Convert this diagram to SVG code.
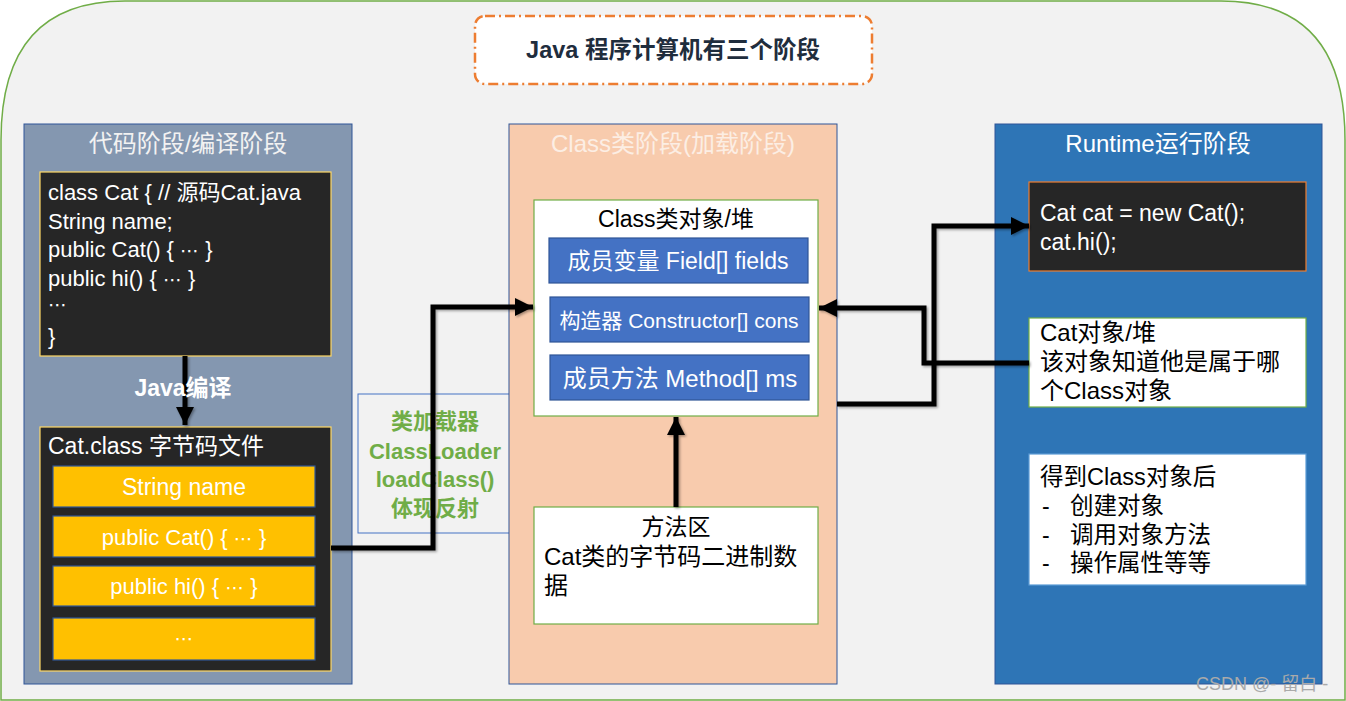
<svg xmlns="http://www.w3.org/2000/svg" width="1346" height="701" viewBox="0 0 1346 701">
<defs>
<style>
text{font-family:"Liberation Sans","Noto Sans CJK SC",sans-serif;font-size:23px}
.c{text-anchor:middle}
.w{fill:#FFFFFF}
.k{fill:#000000}
.code{font-size:22px}
.el{font-family:"DejaVu Sans",sans-serif;font-size:19px}
.panel{stroke:#2F5597;stroke-width:1}
.dark{fill:#262626;stroke:#FFD966;stroke-width:1.2}
.yel{fill:#FFC000;stroke:#2F5597;stroke-width:1.2}
.blu{fill:#4472C4;stroke:#2F5597;stroke-width:1.2}
.gbox{fill:#FFFFFF;stroke:#70AD47;stroke-width:1.2}
.conn{fill:none;stroke:#000;stroke-width:5;filter:url(#sh)}
.ldr{fill:#70AD47;font-weight:bold;font-size:22px}
</style>
<marker id="ah" markerUnits="userSpaceOnUse" markerWidth="20" markerHeight="20" viewBox="0 0 20 20" refX="18" refY="10" orient="auto">
<path d="M0,1 L18,10 L0,19 Z" fill="#000"/>
</marker>
<filter id="sh" filterUnits="userSpaceOnUse" x="0" y="0" width="1346" height="701">
<feDropShadow dx="1.5" dy="1.5" stdDeviation="0.8" flood-color="#000" flood-opacity="0.35"/>
</filter>
</defs>

<path id="bg" d="M1,700 V140 C1,45 45,1 125,1 H1221 C1301,1 1345,45 1345,140 V700 Z" fill="#F2F2F2" stroke="#70AD47" stroke-width="1.5"/>

<g id="title">
<rect x="475" y="16" width="397" height="68" rx="10" fill="#FFFFFF" stroke="#ED7D31" stroke-width="2.5" stroke-dasharray="10,4,2,4"/>
<text x="673" y="58" class="c" style="font-weight:bold;font-size:23.5px" fill="#1F2D3D">Java 程序计算机有三个阶段</text>
</g>

<g id="panel-code">
<rect x="24" y="124" width="328" height="560" fill="#8497B0" class="panel"/>
<text x="188" y="152" class="c" style="font-size:24px" fill="#F2F2F2">代码阶段/编译阶段</text>
</g>

<g id="source">
<rect x="40" y="172" width="291" height="184" class="dark"/>
<text class="w code" x="48" y="200">class Cat { // 源码Cat.java</text>
<text class="w code" x="48" y="229">String name;</text>
<text class="w code" x="48" y="257">public Cat() { <tspan class="el">⋯</tspan> }</text>
<text class="w code" x="48" y="286">public hi() { <tspan class="el">⋯</tspan> }</text>
<text class="w el" x="48" y="311">⋯</text>
<text class="w code" x="48" y="344">}</text>
</g>

<g id="bytecode">
<rect x="40" y="427" width="291" height="244" class="dark"/>
<text class="w" x="48" y="454">Cat.class 字节码文件</text>
<rect x="53" y="466" width="262" height="41" class="yel"/>
<text class="w c" x="184" y="495">String name</text>
<rect x="53" y="516" width="262" height="41" class="yel"/>
<text class="w c code" x="184" y="545">public Cat() { <tspan class="el">⋯</tspan> }</text>
<rect x="53" y="566" width="262" height="40" class="yel"/>
<text class="w c code" x="184" y="594">public hi() { <tspan class="el">⋯</tspan> }</text>
<rect x="53" y="618" width="262" height="42" class="yel"/>
<text class="w c el" x="184" y="645">⋯</text>
</g>

<g id="loader">
<rect x="358" y="394" width="154" height="139" fill="none" stroke="#4472C4" stroke-width="1"/>
<text class="c ldr" x="435" y="429">类加载器</text>
<text class="c ldr" x="435" y="459">ClassLoader</text>
<text class="c ldr" x="435" y="487">loadClass()</text>
<text class="c ldr" x="435" y="516">体现反射</text>
</g>

<g id="panel-class">
<rect x="509" y="124" width="328" height="560" fill="#F8CBAD" class="panel"/>
<text x="673" y="152" class="c" style="font-size:24px" fill="#FCEEE4">Class类阶段(加载阶段)</text>
</g>

<g id="class-object">
<rect x="534" y="200" width="284" height="216" class="gbox"/>
<text class="k c" x="676" y="227">Class类对象/堆</text>
<rect x="549" y="238" width="259" height="45" class="blu"/>
<text class="w c" x="678" y="269">成员变量 Field[] fields</text>
<rect x="550" y="297" width="259" height="45" class="blu"/>
<text class="w c" x="679" y="328" style="font-size:21px">构造器 Constructor[] cons</text>
<rect x="550" y="355" width="259" height="45" class="blu"/>
<text class="w c" x="680" y="387" style="font-size:24px">成员方法 Method[] ms</text>
</g>

<g id="method-area">
<rect x="534" y="507" width="284" height="117" class="gbox"/>
<text class="k c" x="676" y="535">方法区</text>
<text class="k" x="544" y="565" style="font-size:24px">Cat类的字节码二进制数</text>
<text class="k" x="544" y="594" style="font-size:24px">据</text>
</g>

<g id="panel-runtime">
<rect x="995" y="124" width="327" height="560" fill="#2E75B6" class="panel"/>
<text x="1158" y="152" class="c" style="font-size:24px" fill="#FFFFFF">Runtime运行阶段</text>
</g>

<g id="runtime-code">
<rect x="1029" y="182" width="277" height="89" fill="#262626" stroke="#ED7D31" stroke-width="1.2"/>
<text class="w" x="1040" y="221">Cat cat = new Cat();</text>
<text class="w" x="1040" y="250">cat.hi();</text>
</g>

<g id="cat-object">
<rect x="1029" y="318" width="277" height="89" class="gbox"/>
<text class="k" x="1040" y="341" style="font-size:24px">Cat对象/堆</text>
<text class="k" x="1040" y="370" style="font-size:24px">该对象知道他是属于哪</text>
<text class="k" x="1040" y="399" style="font-size:24px">个Class对象</text>
</g>

<g id="after-class">
<rect x="1029" y="454" width="277" height="131" fill="#FFFFFF" stroke="#5B9BD5" stroke-width="1.2"/>
<text class="k" x="1040" y="485" style="font-size:23.5px">得到Class对象后</text>
<text class="k" x="1042" y="514">-</text><text class="k" x="1070" y="514" style="font-size:23.5px">创建对象</text>
<text class="k" x="1042" y="543">-</text><text class="k" x="1070" y="543" style="font-size:23.5px">调用对象方法</text>
<text class="k" x="1042" y="571">-</text><text class="k" x="1070" y="571" style="font-size:23.5px">操作属性等等</text>
</g>

<g id="connectors">
<path class="conn" d="M185,356 V425" marker-end="url(#ah)"/>
<path class="conn" d="M331,548 H433 V307 H533" marker-end="url(#ah)"/>
<path class="conn" d="M676,507 V417" marker-end="url(#ah)"/>
<path class="conn" d="M837,404 H934 V226 H1029" marker-end="url(#ah)"/>
<path class="conn" d="M1029,363 H924 V308 H819" marker-end="url(#ah)"/>
</g>

<g id="compile-label">
<text class="w c" x="183" y="396" style="font-weight:bold">Java编译</text>
</g>

<text x="1196" y="690" fill="#AAAAAA" style="font-size:18px">CSDN @- 留白 -</text>
</svg>
